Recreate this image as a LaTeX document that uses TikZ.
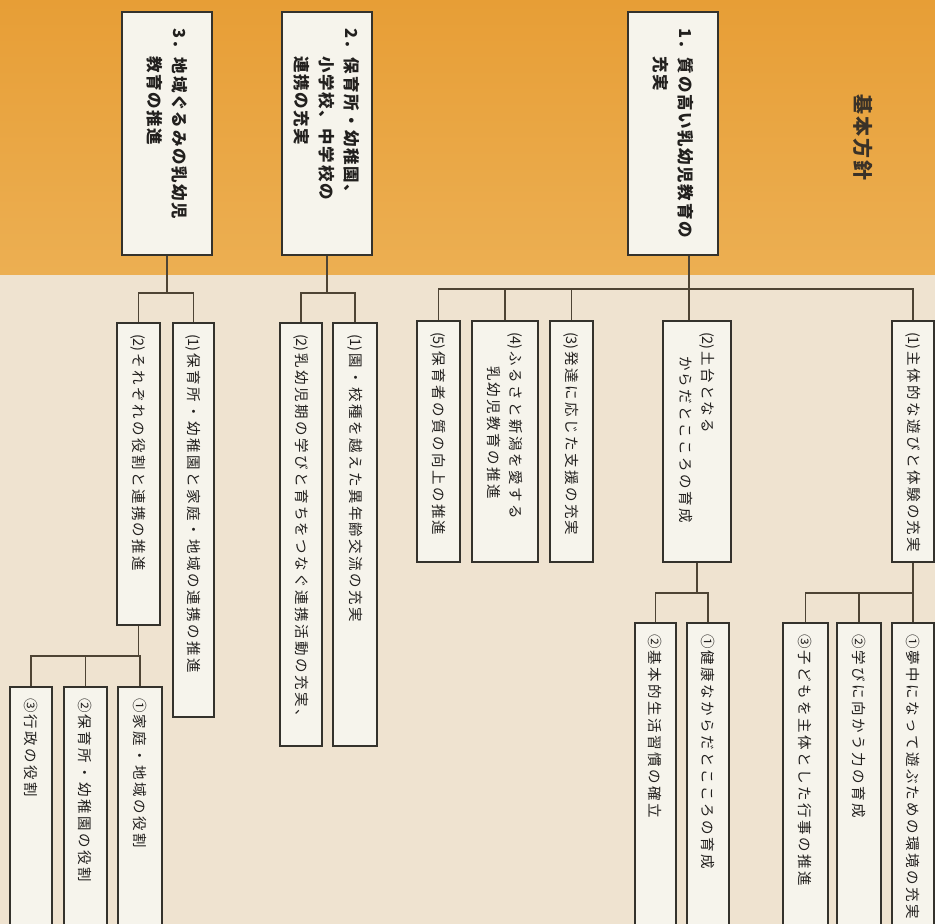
\documentclass[tikz,border=0pt]{standalone}
\usepackage{fontspec}
\newfontfamily\jpL[LetterSpace=17]{Noto Sans CJK JP}
\newfontfamily\jpN{Noto Sans CJK JP}
\newfontfamily\jpT[LetterSpace=10]{Noto Sans CJK JP}
\newcommand\pn[1]{{\jpN(#1)\kern1.5pt}}
\definecolor{orng}{RGB}{231,158,54}
\definecolor{orngB}{RGB}{236,175,82}
\definecolor{beige}{RGB}{239,227,208}
\definecolor{boxfill}{RGB}{246,244,236}
\definecolor{boxline}{RGB}{52,50,44}
\definecolor{wirec}{RGB}{78,68,52}
\definecolor{ink}{RGB}{34,32,30}
\definecolor{titleink}{RGB}{58,50,40}
\tikzset{
  base/.style={draw=boxline, fill=boxfill, line width=1.4pt, rotate=-90, inner ysep=0pt, align=left, text=ink},
  topbox/.style={base, inner xsep=16pt, minimum width=243pt, minimum height=90pt, text width=211pt,
    font=\jpT\bfseries\fontsize{16.5}{25}\selectfont},
  midbox/.style={base, inner xsep=11pt, font=\jpL\fontsize{14.5}{22}\selectfont},
  wire/.style={draw=wirec, line width=1.3pt},
}
\begin{document}
\begin{tikzpicture}[x=1pt, y=-1pt]
\path[use as bounding box] (0,0) rectangle (935,924);
\clip (0,0) rectangle (935,924);
% backgrounds
\fill[beige] (0,0) rectangle (935,924);
\shade[top color=orng, bottom color=orngB] (0,0) rectangle (935,274);
\node[rotate=-90, text=titleink, font=\jpT\bfseries\fontsize{20}{24}\selectfont] (title) at (863,137) {基本方針};
% top level
\node[topbox] (B1) at (673,133.5) {1．質の高い乳幼児教育の\\\phantom{1．}充実};
\node[topbox] (B2) at (327,133.5) {2．保育所・幼稚園、\\\phantom{2．}小学校、中学校の\\\phantom{2．}連携の充実};
\node[topbox] (B3) at (167,133.5) {3．地域ぐるみの乳幼児\\\phantom{3．}教育の推進};
% level 2, group 1
\node[midbox, minimum width=241pt, minimum height=42pt, text width=219pt] (C1) at (913,441.5) {\pn{1}主体的な遊びと体験の充実};
\node[midbox, minimum width=241pt, minimum height=68pt, text width=219pt] (C2) at (697,441.5) {\pn{2}土台となる\\\hspace*{24pt}からだとこころの育成};
\node[midbox, minimum width=241pt, minimum height=43pt, text width=219pt] (C3) at (571.5,441.5) {\pn{3}発達に応じた支援の充実};
\node[midbox, minimum width=241pt, minimum height=66pt, text width=219pt] (C4) at (505,441.5) {\pn{4}ふるさと新潟を愛する\\\hspace*{34pt}乳幼児教育の推進};
\node[midbox, minimum width=241pt, minimum height=43pt, text width=219pt] (C5) at (438.5,441.5) {\pn{5}保育者の質の向上の推進};
% level 2, group 2
\node[midbox, minimum width=423pt, minimum height=44pt, text width=401pt] (D1) at (355,534.5) {\pn{1}園・校種を越えた異年齢交流の充実};
\node[midbox, minimum width=423pt, minimum height=42pt, text width=401pt] (D2) at (301,534.5) {\pn{2}乳幼児期の学びと育ちをつなぐ連携活動の充実、};
% level 2, group 3
\node[midbox, minimum width=394pt, minimum height=41pt, text width=372pt] (E1) at (193.5,520) {\pn{1}保育所・幼稚園と家庭・地域の連携の推進};
\node[midbox, minimum width=302pt, minimum height=43pt, text width=280pt] (E2) at (138.5,474) {\pn{2}それぞれの役割と連携の推進};
% level 3
\node[midbox, minimum width=322pt, minimum height=42pt, text width=300pt] (F1) at (913,784) {①夢中になって遊ぶための環境の充実};
\node[midbox, minimum width=322pt, minimum height=44pt, text width=300pt] (F2) at (859,784) {②学びに向かう力の育成};
\node[midbox, minimum width=322pt, minimum height=45pt, text width=300pt] (F3) at (805.5,784) {③子どもを主体とした行事の推進};
\node[midbox, minimum width=322pt, minimum height=42pt, text width=300pt] (G1) at (708,784) {①健康なからだとこころの育成};
\node[midbox, minimum width=322pt, minimum height=41pt, text width=300pt] (G2) at (655.5,784) {②基本的生活習慣の確立};
\node[midbox, minimum width=263pt, minimum height=44pt, text width=241pt] (H1) at (140,818.5) {①家庭・地域の役割};
\node[midbox, minimum width=263pt, minimum height=43pt, text width=241pt] (H2) at (85.5,818.5) {②保育所・幼稚園の役割};
\node[midbox, minimum width=263pt, minimum height=42pt, text width=241pt] (H3) at (31,818.5) {③行政の役割};
% bar levels
\coordinate (bar1) at (0,289);
\coordinate (bar2) at (0,593);
\coordinate (bar3) at (0,293);
\coordinate (bar4) at (0,656);
% group 1 connectors
\draw[wire] ([xshift=16pt]B1.east) -- ([xshift=-8pt]C2.west);
\draw[wire] (C5.west) -- (C5.west |- bar1) -- (C1.west |- bar1) -- (C1.west);
\draw[wire] (C4.west) -- (C4.west |- bar1);
\draw[wire] (C3.west) -- (C3.west |- bar1);
\draw[wire] (C2.east) -- (C2.east |- bar2);
\draw[wire] (G2.west) -- (G2.west |- bar2) -- (G1.west |- bar2) -- (G1.west);
\draw[wire] (C1.east) -- (C1.east |- bar2);
\draw[wire] (F3.west) -- (F3.west |- bar2) -- (F1.west |- bar2) -- (F1.west);
\draw[wire] (F2.west) -- (F2.west |- bar2);
% group 2 connectors
\draw[wire] (B2.east) -- (B2.east |- bar3);
\draw[wire] (D2.west) -- (D2.west |- bar3) -- (D1.west |- bar3) -- (D1.west);
% group 3 connectors
\draw[wire] (B3.east) -- (B3.east |- bar3);
\draw[wire] (E2.west) -- (E2.west |- bar3) -- (E1.west |- bar3) -- (E1.west);
\draw[wire] (E2.east) -- (E2.east |- bar4);
\draw[wire] (H3.west) -- (H3.west |- bar4) -- (H1.west |- bar4) -- (H1.west);
\draw[wire] (H2.west) -- (H2.west |- bar4);
\end{tikzpicture}
\end{document}
